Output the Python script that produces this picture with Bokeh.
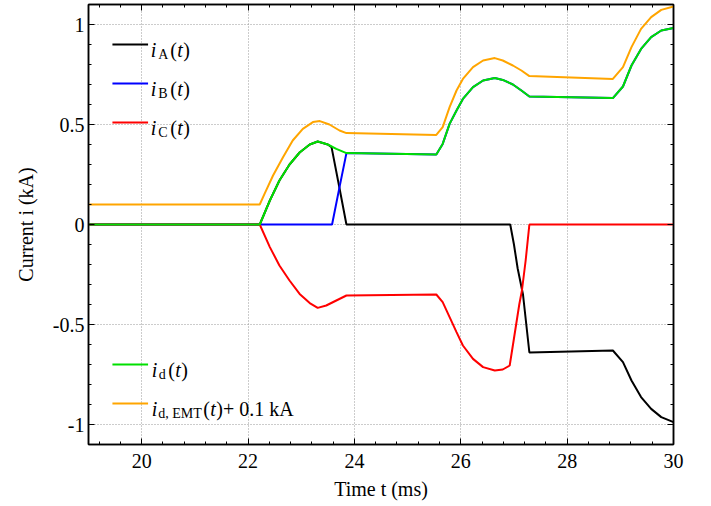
from bokeh.plotting import figure
from bokeh.models import Range1d, LinearAxis, FixedTicker, Label, CustomJSTickFormatter
from bokeh.embed import file_html
from bokeh.resources import INLINE
import numpy as np

# ---------------- data ----------------
X_TICKS = [20, 22, 24, 26, 28, 30]
Y_TICKS = [-1, -0.5, 0, 0.5, 1]
Y_TICK_LABELS = ["-1", "-0.5", "0", "0.5", "1"]

t_a = [19.0, 22.22, 22.41, 22.59, 22.78, 22.97, 23.16, 23.31, 23.5, 23.57, 23.71, 23.85,
       26.93, 27.0, 27.07, 27.17, 27.29, 28.86, 29.05, 29.21, 29.39, 29.58, 29.77, 30.0]
i_a = [0, 0, 0.12, 0.22, 0.30, 0.36, 0.40, 0.415, 0.40, 0.387, 0.195, 0,
       0, -0.1, -0.22, -0.35, -0.64, -0.63, -0.688, -0.78, -0.863, -0.922, -0.963, -0.988]

t_b = [19.0, 23.58, 23.72, 23.85, 25.54, 25.66, 25.79, 25.92, 26.04, 26.23, 26.42, 26.64,
       26.79, 26.98, 27.14, 27.29, 28.86, 29.05, 29.21, 29.39, 29.58, 29.77, 30.0]
i_b = [0, 0, 0.187, 0.357, 0.35, 0.403, 0.503, 0.57, 0.628, 0.687, 0.72, 0.732,
       0.723, 0.70, 0.67, 0.64, 0.632, 0.69, 0.795, 0.878, 0.937, 0.97, 0.983]

t_c = [19.0, 22.22, 22.41, 22.59, 22.78, 22.97, 23.16, 23.31, 23.47, 23.66, 23.85, 25.54,
       25.66, 25.79, 25.92, 26.04, 26.23, 26.42, 26.64, 26.79, 26.92, 27.0, 27.1, 27.15,
       27.22, 27.29, 30.0]
i_c = [0, 0, -0.113, -0.205, -0.28, -0.347, -0.393, -0.417, -0.405, -0.38, -0.355, -0.35,
       -0.388, -0.463, -0.538, -0.605, -0.672, -0.713, -0.73, -0.725, -0.705, -0.57, -0.40, -0.33,
       -0.18, 0, 0]

t_d = [19.0, 22.22, 22.41, 22.59, 22.78, 22.97, 23.16, 23.31, 23.5, 23.66, 23.85, 25.54,
       25.66, 25.79, 25.92, 26.04, 26.23, 26.42, 26.64, 26.79, 26.98, 27.14, 27.29, 28.86,
       29.05, 29.21, 29.39, 29.58, 29.77, 30.0]
i_d = [0, 0, 0.12, 0.22, 0.30, 0.36, 0.40, 0.415, 0.40, 0.378, 0.357, 0.35,
       0.403, 0.503, 0.57, 0.628, 0.687, 0.72, 0.732, 0.723, 0.70, 0.67, 0.64, 0.632,
       0.69, 0.795, 0.878, 0.937, 0.97, 0.983]

t_emt = [19.0, 22.22, 22.31, 22.47, 22.66, 22.84, 23.03, 23.22, 23.35, 23.53, 23.72, 23.85,
         25.54, 25.66, 25.79, 25.92, 26.04, 26.23, 26.42, 26.64, 26.79, 26.98, 27.14, 27.29,
         28.86, 29.05, 29.21, 29.39, 29.58, 29.77, 30.0]
i_d_emt = [0, 0, 0.053, 0.145, 0.237, 0.32, 0.378, 0.412, 0.417, 0.40, 0.37, 0.357,
           0.348, 0.387, 0.487, 0.57, 0.628, 0.687, 0.72, 0.732, 0.72, 0.695, 0.67, 0.642,
           0.628, 0.687, 0.787, 0.878, 0.937, 0.973, 0.99]
EMT_OFFSET = 0.1  # kA, as stated in the legend

# ---------------- style ----------------
FONT = "Liberation Serif"
C_A, C_B, C_C, C_D, C_EMT = "#000000", "#0000ff", "#ff0000", "#00e000", "#ffa500"
LW = 2

p = figure(width=700, height=502, x_range=Range1d(19, 30), y_range=Range1d(-1.1, 1.1),
           output_backend="svg", toolbar_location=None,
           min_border_left=88, min_border_right=27, min_border_top=4, min_border_bottom=58)
p.background_fill_color = "white"
p.border_fill_color = "white"
p.outline_line_color = "black"
p.outline_line_width = 1.5

x_minor = [round(v, 2) for v in np.arange(19.2, 30.0, 0.4)]
y_minor = [round(v, 2) for v in np.arange(-1.1, 1.1001, 0.1)]
xt = FixedTicker(ticks=X_TICKS, minor_ticks=x_minor)
yt = FixedTicker(ticks=Y_TICKS, minor_ticks=y_minor)

def style_axis(ax):
    ax.major_tick_in = 6
    ax.major_tick_out = 0
    ax.minor_tick_in = 3
    ax.minor_tick_out = 0
    ax.axis_line_color = "black"
    ax.axis_line_width = 1.5
    ax.major_tick_line_color = "black"
    ax.minor_tick_line_color = "black"
    ax.major_label_text_font = FONT
    ax.major_label_text_font_size = "20px"
    ax.major_label_text_color = "black"
    ax.axis_label_text_font = FONT
    ax.axis_label_text_font_size = "20px"
    ax.axis_label_text_font_style = "normal"
    ax.axis_label_text_color = "black"

xa = p.xaxis[0]
xa.ticker = xt
xa.axis_label = "Time t (ms)"
style_axis(xa)
xa.major_label_standoff = 9
xa.axis_label_standoff = 7

ya = p.yaxis[0]
ya.ticker = yt
ya.axis_label = "Current i (kA)"
ya.major_label_overrides = {v: s for v, s in zip(Y_TICKS, Y_TICK_LABELS)}
style_axis(ya)
ya.major_label_standoff = 4
ya.axis_label_standoff = 13

blank = CustomJSTickFormatter(code="return ''")
top = LinearAxis(ticker=xt, formatter=blank)
style_axis(top)
right = LinearAxis(ticker=yt, formatter=blank)
style_axis(right)
p.add_layout(top, "above")
p.add_layout(right, "right")

for g in (p.xgrid[0], p.ygrid[0]):
    g.grid_line_color = "#999999"
    g.grid_line_dash = "1 2"
    g.grid_line_width = 1
p.xgrid[0].ticker = xt
p.ygrid[0].ticker = yt

# ---------------- curves ----------------
p.line(t_a, i_a, line_color=C_A, line_width=LW)
p.line(t_b, i_b, line_color=C_B, line_width=LW)
p.line(t_c, i_c, line_color=C_C, line_width=LW)
p.line(t_d, i_d, line_color=C_D, line_width=LW)
p.line(t_emt, [v + EMT_OFFSET for v in i_d_emt], line_color=C_EMT, line_width=LW)

# ---------------- legend (hand-made, for sub-scripts) ----------------
PX_Y = 440 / 2.2
KEY_X0, KEY_X1, TEXT_X = 19.45, 20.12, 20.17
rows = [
    (0.90, C_A, [("i", "italic", 20, 0, 0), ("A", "normal", 14, 7.5, 1), ("(", "normal", 20, 19.5, 0),
                 ("t", "italic", 20, 26.5, 0), (")", "normal", 20, 32.5, 0)]),
    (0.705, C_B, [("i", "italic", 20, 0, 0), ("B", "normal", 14, 7.5, 1), ("(", "normal", 20, 19.5, 0),
                  ("t", "italic", 20, 26.5, 0), (")", "normal", 20, 32.5, 0)]),
    (0.51, C_C, [("i", "italic", 20, 0, 0), ("C", "normal", 14, 7.5, 1), ("(", "normal", 20, 19.5, 0),
                 ("t", "italic", 20, 26.5, 0), (")", "normal", 20, 32.5, 0)]),
    (-0.70, C_D, [("i", "italic", 20, 1, 0), ("d", "normal", 14, 8, 1), ("(", "normal", 20, 17.5, 0),
                  ("t", "italic", 20, 24.5, 0), (")", "normal", 20, 30.5, 0)]),
    (-0.895, C_EMT, [("i", "italic", 20, 1, 0), ("d, EMT", "normal", 14, 7.5, 1), ("(", "normal", 20, 52.5, 0),
                     ("t", "italic", 20, 59.5, 0), (")+ 0.1 kA", "normal", 20, 65.5, 0)]),
]
for ry, col, pieces in rows:
    p.line([KEY_X0, KEY_X1], [ry, ry], line_color=col, line_width=LW)
    for txt, style, size, dx, sub in pieces:
        yb = ry - (10.0 if sub else 5.5) / PX_Y
        p.add_layout(Label(x=TEXT_X, y=yb, x_offset=dx, text=txt, text_font=FONT,
                           text_font_style=style, text_font_size=f"{size}px",
                           text_color="black", text_baseline="alphabetic", text_align="left"))

open("out.html", "w").write(file_html(p, INLINE))
